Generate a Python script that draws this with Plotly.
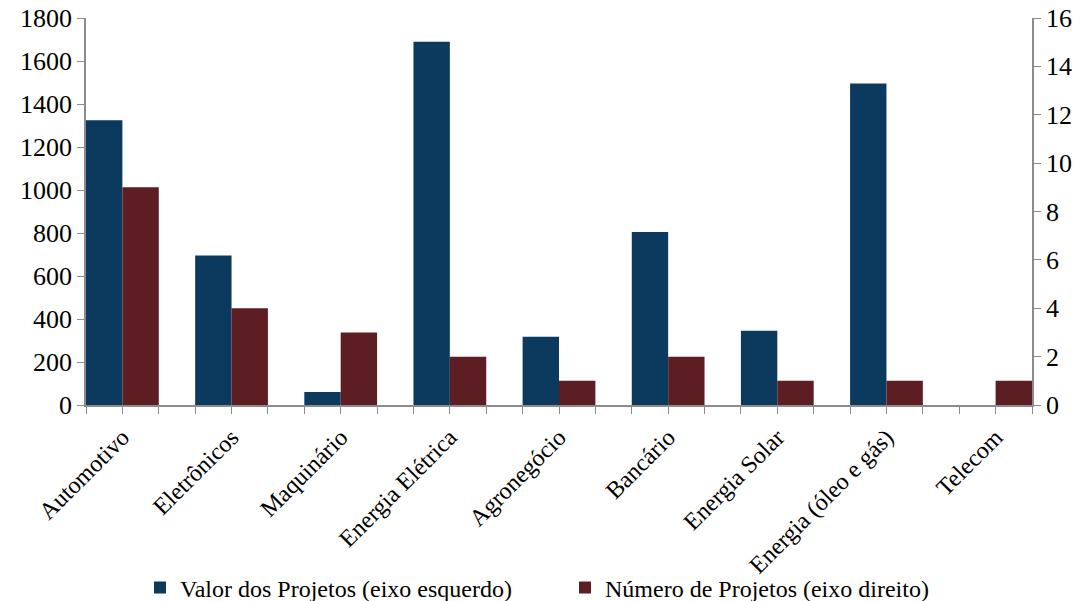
import plotly.graph_objects as go

setores = ["Automotivo", "Eletrônicos", "Maquinário", "Energia Elétrica",
           "Agronegócio", "Bancário", "Energia Solar", "Energia (óleo e gás)", "Telecom"]
valor_projetos = [1325, 695, 60, 1690, 318, 805, 345, 1495, 0]
numero_projetos = [9, 4, 3, 2, 1, 2, 1, 1, 1]

posicoes = list(range(len(setores)))
fonte = "Liberation Serif, Times New Roman, serif"
azul = "#0B3A5E"
vinho = "#5C1E22"
cinza = "#8C8C8C"

fig = go.Figure()
fig.add_trace(go.Bar(
    x=posicoes, y=valor_projetos, name="Valor dos Projetos (eixo esquerdo)",
    marker=dict(color=azul, line=dict(width=0)), offsetgroup="a", yaxis="y",
))
fig.add_trace(go.Bar(
    x=posicoes, y=numero_projetos, name="Número de Projetos (eixo direito)",
    marker=dict(color=vinho, line=dict(width=0)), offsetgroup="b", yaxis="y2",
))

fig.update_layout(
    width=1091, height=601,
    margin=dict(l=86, r=59, t=18, b=196),
    paper_bgcolor="white", plot_bgcolor="white",
    barmode="group", bargap=1/3, bargroupgap=0,
    font=dict(family=fonte, color="black", size=24),
    showlegend=True,
    legend=dict(
        orientation="h", xref="container", yref="container",
        x=140/1091, xanchor="left", y=1 - 588/601, yanchor="middle",
        font=dict(family=fonte, size=24), itemwidth=30,
        traceorder="normal", entrywidth=380,
        bgcolor="rgba(0,0,0,0)",
    ),
    xaxis=dict(
        range=[-1/3, len(setores) - 2/3], automargin=False,
        tickvals=posicoes, ticktext=setores, tickangle=-45,
        ticks="outside", ticklen=7, tickcolor=cinza, tickwidth=1,
        minor=dict(tick0=-1/3, dtick=1/3, ticks="outside", ticklen=7,
                   tickcolor=cinza, tickwidth=1, showgrid=False),
        showline=True, linecolor=cinza, linewidth=1.5,
        showgrid=False, zeroline=False,
        tickfont=dict(family=fonte, size=24),
    ),
    yaxis=dict(
        range=[0, 1800], dtick=200, ticks="outside", ticklen=7, automargin=False,
        tickcolor=cinza, showline=True, linecolor=cinza, linewidth=1.5,
        showgrid=False, zeroline=False,
        tickfont=dict(family=fonte, size=26),
    ),
    yaxis2=dict(
        range=[0, 16], dtick=2, overlaying="y", side="right", automargin=False,
        ticks="outside", ticklen=7, tickcolor=cinza,
        showline=True, linecolor=cinza, linewidth=1.5,
        showgrid=False, zeroline=False,
        tickfont=dict(family=fonte, size=26),
    ),
)

fig.write_html("out.html")
